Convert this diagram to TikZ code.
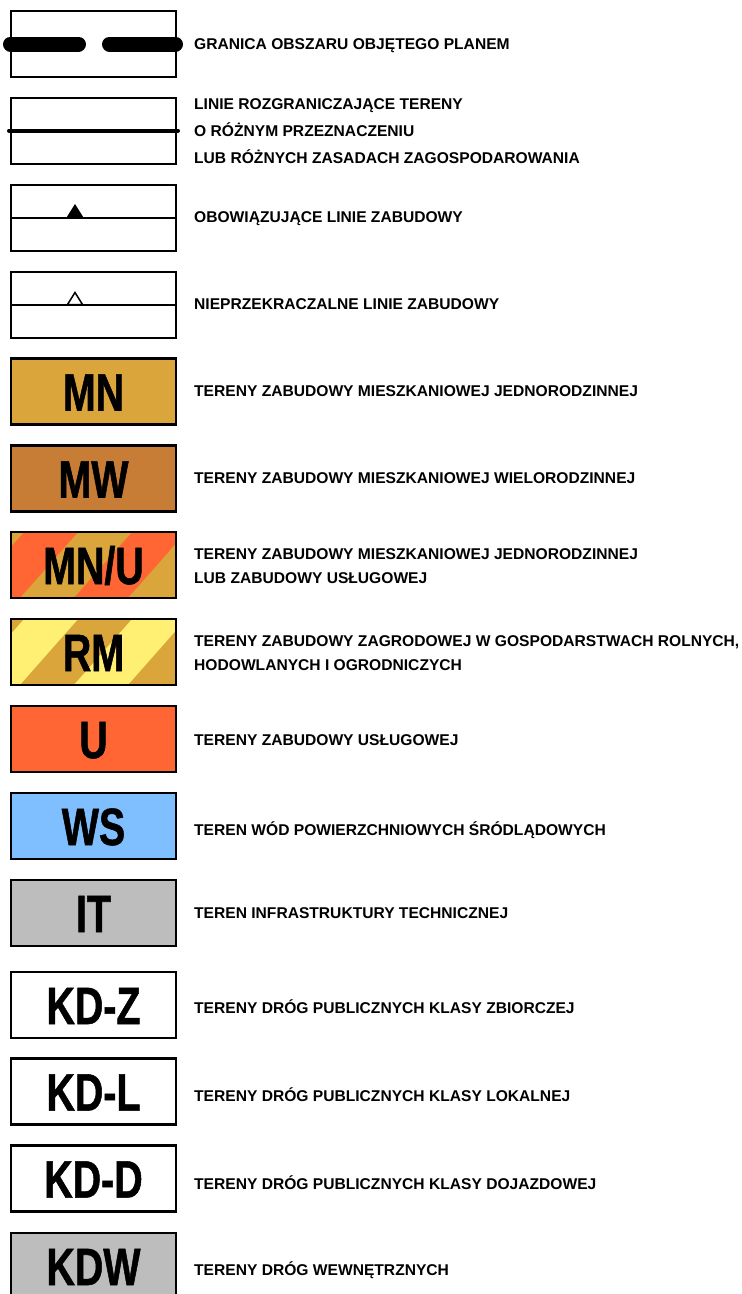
\documentclass[tikz,border=0pt]{standalone}
\usepackage{fontspec}
\newfontfamily\lblfont{Liberation Sans}
\newfontfamily\bigfont[FakeStretch=0.75,FakeBold=1]{Liberation Sans}
\definecolor{mnc}{RGB}{218,165,58}
\definecolor{mwc}{RGB}{200,125,55}
\definecolor{uc}{RGB}{255,102,51}
\definecolor{rmy}{RGB}{255,240,115}
\definecolor{wsc}{RGB}{128,191,255}
\definecolor{itc}{RGB}{189,189,189}
\tikzset{
  legbox/.style={draw, line width=2.4pt, minimum width=165pt, minimum height=66pt, inner sep=0pt,
    text height=38pt, text depth=0pt, font=\bigfont\bfseries\fontsize{52.5}{60}\selectfont},
  linebox/.style={draw, line width=2pt, minimum width=165pt, minimum height=66pt, inner sep=0pt},
  lbl/.style={anchor=base west, inner sep=0pt, align=left, font=\lblfont\bfseries\fontsize{15.6}{27}\selectfont},
  lbltwo/.style={lbl, font=\lblfont\bfseries\fontsize{15.6}{24}\selectfont}
}
\newcommand{\hatchfill}[3]{% #1 top y of box, #2 base colour, #3 stripe colour
  \begin{scope}
    \clip (11,#1+1) rectangle (176,#1+67);
    \fill[#2] (0,#1-10) rectangle (190,#1+80);
    \foreach \j in {0,1} {
      \fill[#3] ({30.3+108*\j},#1-6) -- ({84.3+108*\j},#1-6) -- ({13.7+108*\j},#1+74) -- ({-40.3+108*\j},#1+74) -- cycle;
    }
  \end{scope}}
\begin{document}
\begin{tikzpicture}[x=1pt,y=-1pt]
\clip (0,0) rectangle (742,1294);
\fill[white] (0,0) rectangle (742,1294);
% line symbols
\node[linebox] (b1) at (93.5,44) {};
\draw[line width=15pt, line cap=round] (10.5,44) coordinate (d1a) -- (78.5,44) coordinate (d1b);
\draw[line width=15pt, line cap=round] (109.5,44) coordinate (d2a) -- (175.5,44) coordinate (d2b);
\node[lbl] (t1) at (194,49.6) {GRANICA OBSZARU OBJĘTEGO PLANEM};

\node[linebox] (b2) at (93.5,130.5) {};
\draw[line width=4pt, line cap=round] ([xshift=-1pt]b2.west) -- ([xshift=1pt]b2.east);
\node[lbl] (t2) at (194,163.4) {LINIE ROZGRANICZAJĄCE TERENY\\O RÓŻNYM PRZEZNACZENIU\\LUB RÓŻNYCH ZASADACH ZAGOSPODAROWANIA};

\node[linebox] (b3) at (93.5,217.5) {};
\draw[line width=2pt] (b3.west) -- (b3.east);
\fill (75,204) -- (83.5,217.5) -- (66.5,217.5) -- cycle;
\node[lbl] (t3) at (194,222.6) {OBOWIĄZUJĄCE LINIE ZABUDOWY};

\node[linebox] (b4) at (93.5,304.5) {};
\draw[line width=2pt] (b4.west) -- (b4.east);
\draw[line width=1.5pt, fill=white, line join=miter] (75,292.5) -- (82.5,304.5) -- (67.5,304.5) -- cycle;
\node[lbl] (t4) at (194,309.6) {NIEPRZEKRACZALNE LINIE ZABUDOWY};

% land use boxes
\node[legbox, fill=mnc] (mn) at (93.5,391.5) {MN};
\node[lbl] (tmn) at (194,396.6) {TERENY ZABUDOWY MIESZKANIOWEJ JEDNORODZINNEJ};

\node[legbox, fill=mwc] (mw) at (93.5,478.5) {MW};
\node[lbl] (tmw) at (194,483.6) {TERENY ZABUDOWY MIESZKANIOWEJ WIELORODZINNEJ};

\hatchfill{531}{mnc}{uc}
\node[legbox] (mnu) at (93.5,565) {MN/U};
\node[lbltwo] (tmnu) at (194,583.4) {TERENY ZABUDOWY MIESZKANIOWEJ JEDNORODZINNEJ\\LUB ZABUDOWY USŁUGOWEJ};

\hatchfill{618}{mnc}{rmy}
\node[legbox] (rm) at (93.5,652) {RM};
\node[lbltwo] (trm) at (194,670.4) {TERENY ZABUDOWY ZAGRODOWEJ W GOSPODARSTWACH ROLNYCH,\\HODOWLANYCH I OGRODNICZYCH};

\node[legbox, fill=uc] (u) at (93.5,739) {U};
\node[lbl] (tu) at (194,745.4) {TERENY ZABUDOWY USŁUGOWEJ};

\node[legbox, fill=wsc] (ws) at (93.5,826) {WS};
\node[lbl] (tws) at (194,835.4) {TEREN WÓD POWIERZCHNIOWYCH ŚRÓDLĄDOWYCH};

\node[legbox, fill=itc] (it) at (93.5,913) {IT};
\node[lbl] (tit) at (194,918.4) {TEREN INFRASTRUKTURY TECHNICZNEJ};

\node[legbox, fill=white] (kdz) at (93.5,1005) {KD-Z};
\node[lbl] (tkdz) at (194,1013.4) {TERENY DRÓG PUBLICZNYCH KLASY ZBIORCZEJ};

\node[legbox, fill=white] (kdl) at (93.5,1091.5) {KD-L};
\node[lbl] (tkdl) at (194,1101.4) {TERENY DRÓG PUBLICZNYCH KLASY LOKALNEJ};

\node[legbox, fill=white] (kdd) at (93.5,1178.5) {KD-D};
\node[lbl] (tkdd) at (194,1189.4) {TERENY DRÓG PUBLICZNYCH KLASY DOJAZDOWEJ};

\node[legbox, fill=itc] (kdw) at (93.5,1266) {KDW};
\node[lbl] (tkdw) at (194,1275.4) {TERENY DRÓG WEWNĘTRZNYCH};
\end{tikzpicture}
\end{document}
